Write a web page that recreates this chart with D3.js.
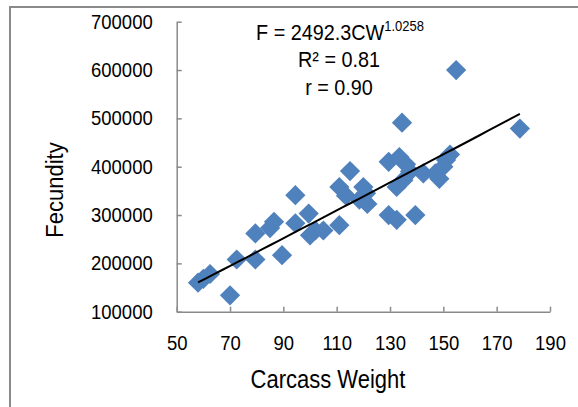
<!DOCTYPE html>
<html>
<head>
<meta charset="utf-8">
<script src="https://cdn.jsdelivr.net/npm/d3@7"></script>
<style>
  html, body { margin: 0; padding: 0; background: #fff; }
  svg { display: block; }
  text { font-family: "Liberation Sans", Arial, sans-serif; fill: #000; }
</style>
</head>
<body>
<svg id="chart" width="578" height="407"></svg>
<script>
// ---- Data ----
const carcassWeight = [58, 60, 62.5, 70, 72.5, 79.5, 79.5, 85, 86.5, 89.5,
  94.5, 94.5, 99.5, 100, 102, 105, 111, 111, 113.5, 115,
  118.5, 120, 121, 121.5, 129.5, 132.5, 139.5, 129.5, 133.5, 134.5,
  136, 137.5, 132.5, 135, 142.5, 147, 148.5, 150, 151, 152.5,
  154.8, 178.7];
const fecundity = [160000, 168000, 178000, 134000, 208000, 208000, 262000, 273000, 286000, 217000,
  341000, 283000, 303000, 258000, 268000, 268000, 279000, 358000, 340000, 391000,
  332000, 358000, 345000, 323000, 300000, 290000, 300000, 410000, 420000, 491000,
  405000, 390000, 358000, 372000, 386000, 386000, 375000, 400000, 414000, 425000,
  600000, 479000];
const xTicks = [50, 70, 90, 110, 130, 150, 170, 190];
const yTicks = [100000, 200000, 300000, 400000, 500000, 600000, 700000];
const fitA = 2492.3, fitB = 1.0258;
const equationLines = ["R² = 0.81", "r = 0.90"];
const xTitle = "Carcass Weight", yTitle = "Fecundity";

// ---- Layout ----
const svg = d3.select("#chart");
const axisColor = "#8a8a8a";
const stretch = 1.1; // glyphs in the reference are slightly taller than wide

// outer frame
svg.append("rect").attr("x", 10).attr("y", 7).attr("width", 620).attr("height", 460)
  .attr("fill", "none").attr("stroke", axisColor).attr("stroke-width", 2);

const x = d3.scaleLinear().domain([50, 190]).range([176.7, 550]);
const y = d3.scaleLinear().domain([100000, 700000]).range([311.7, 21.7]);

// axes
const yAxis = svg.append("g").attr("transform", `translate(${x(50)},0)`)
  .call(d3.axisLeft(y).tickValues(yTicks).tickFormat(d3.format("d"))
    .tickSizeInner(-5).tickSizeOuter(0).tickPadding(24));
const xAxis = svg.append("g").attr("transform", `translate(0,${y(100000)})`)
  .call(d3.axisBottom(x).tickValues(xTicks).tickFormat(d3.format("d"))
    .tickSizeInner(-5).tickSizeOuter(0).tickPadding(22));
[xAxis, yAxis].forEach(g => {
  g.select(".domain").attr("stroke", axisColor).attr("stroke-width", 1.5);
  g.selectAll(".tick line").attr("stroke", axisColor).attr("stroke-width", 1.5);
  g.selectAll(".tick text").attr("font-size", 18.5)
    .attr("font-family", "Liberation Sans, Arial, sans-serif").attr("fill", "#000")
    .attr("transform", `scale(1,${stretch})`);
});

// points
const pts = carcassWeight.map((c, i) => ({ c, f: fecundity[i] }));
const diamond = d3.symbol().type(d3.symbolSquare).size(205);
svg.append("g").selectAll("path").data(pts).join("path")
  .attr("d", diamond)
  .attr("transform", d => `translate(${x(d.c)},${y(d.f)}) rotate(45)`)
  .attr("fill", "#4F81BD");

// power trend line
const cMin = d3.min(carcassWeight), cMax = d3.max(carcassWeight);
const trend = d3.range(0, 41).map(i => cMin + (cMax - cMin) * i / 40)
  .map(c => ({ c, f: fitA * Math.pow(c, fitB) }));
svg.append("path").datum(trend)
  .attr("d", d3.line().x(d => x(d.c)).y(d => y(d.f)))
  .attr("fill", "none").attr("stroke", "#000").attr("stroke-width", 2);

// equation
const eq = svg.append("text").attr("transform", `translate(340,40) scale(1,1.07)`)
  .attr("text-anchor", "middle").attr("font-size", 19.8);
eq.append("tspan").text(`F = ${fitA}CW`);
eq.append("tspan").attr("font-size", 13).attr("dy", -8).text(fitB.toFixed(4));
equationLines.forEach((t, i) => {
  svg.append("text").attr("transform", `translate(339,${67 + i * 28}) scale(1,1.07)`)
    .attr("text-anchor", "middle").attr("font-size", 19.8).text(t);
});

// axis titles
svg.append("text").attr("transform", `translate(328,388) scale(1,1.14)`).attr("text-anchor", "middle")
  .attr("font-size", 22).text(xTitle);
svg.append("text").attr("transform", "translate(63,190) rotate(-90) scale(1,1.1)").attr("text-anchor", "middle")
  .attr("font-size", 22).text(yTitle);
</script>
</body>
</html>
